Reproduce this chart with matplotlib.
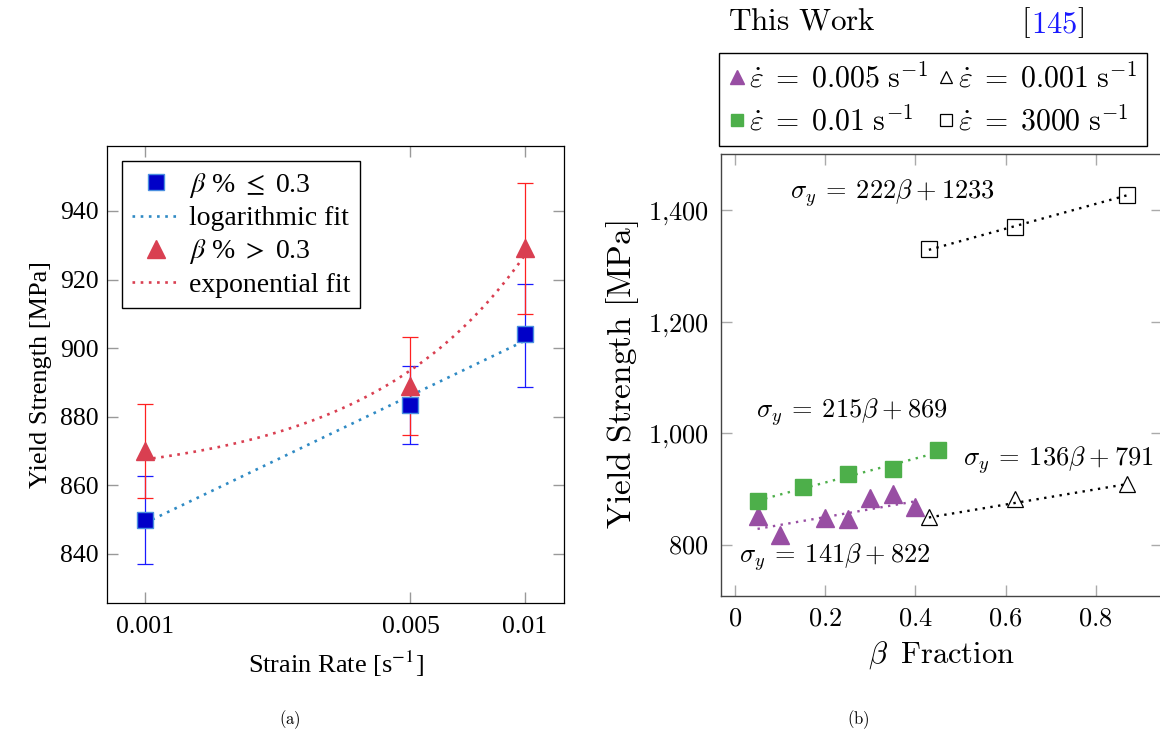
import numpy as np
import matplotlib.pyplot as plt
from matplotlib.ticker import NullLocator, FuncFormatter
from matplotlib.lines import Line2D

plt.rcParams['font.family'] = ['Liberation Serif', 'DejaVu Serif']
plt.rcParams['mathtext.fontset'] = 'cm'

# (a) yield strength against strain rate
strain_rate = [0.001, 0.005, 0.01]
low_beta = [849.8, 883.5, 904.0]
low_beta_lo = [837.0, 872.0, 888.8]
low_beta_hi = [862.8, 894.9, 918.7]
high_beta = [870.0, 889.0, 929.2]
high_beta_lo = [856.3, 874.7, 910.0]
high_beta_hi = [883.6, 903.3, 948.2]

# (b) yield strength against beta fraction
beta_005 = [0.05, 0.10, 0.20, 0.25, 0.30, 0.35, 0.40]
ys_005 = [852, 818, 849, 846, 884, 892, 868]
beta_01 = [0.05, 0.15, 0.25, 0.35, 0.45]
ys_01 = [879, 904, 927, 937, 971]
beta_ref = [0.43, 0.62, 0.87]
ys_ref_001 = [851, 882, 910]
ys_ref_3000 = [1330, 1369, 1426]
# linear fits (slope, intercept) as printed on the chart
fit_005 = (141, 822)
fit_01 = (215, 869)
fit_001 = (136, 791)
fit_3000 = (222, 1233)

fig = plt.figure(figsize=(11.6, 7.42), dpi=100)

# ---------------- panel (a) ----------------
ax1 = fig.add_axes([0.0925, 0.1869, 0.394, 0.6167])
sr = np.array(strain_rate)

ax1.errorbar(strain_rate, low_beta,
             yerr=[np.subtract(low_beta, low_beta_lo), np.subtract(low_beta_hi, low_beta)],
             fmt='none', ecolor='#1a1aff', elinewidth=0.9, capsize=5.8, capthick=0.9, zorder=2)
ax1.errorbar(strain_rate, high_beta,
             yerr=[np.subtract(high_beta, high_beta_lo), np.subtract(high_beta_hi, high_beta)],
             fmt='none', ecolor='#ff2020', elinewidth=0.9, capsize=5.8, capthick=0.9, zorder=2)

# logarithmic fit of the low beta group
b, a = np.polyfit(np.log(sr), low_beta, 1)
xs = np.logspace(np.log10(sr.min()), np.log10(sr.max()), 200)
ax1.plot(xs, a + b * np.log(xs), color='#2f8ac4', lw=1.9, ls=(0, (1, 2.1)), zorder=3)
# exponential fit of the high beta group
b2, a2 = np.polyfit(sr, np.log(high_beta), 1)
ax1.plot(xs, np.exp(a2 + b2 * xs), color='#d93f51', lw=1.9, ls=(0, (1, 2.1)), zorder=3)

ax1.plot(strain_rate, low_beta, 's', ms=12, mfc='#0000c8', mec='#4a8fe0', mew=1, ls='none', zorder=4)
ax1.plot(strain_rate, high_beta, '^', ms=13, mfc='#d93f51', mec='#d93f51', mew=1, ls='none', zorder=4)

ax1.set_xscale('log')
ax1.set_xlim(10 ** -3.099, 10 ** -1.896)
ax1.set_ylim(825.6, 959)
ax1.set_xticks(strain_rate)
ax1.set_xticklabels(['0.001', '0.005', '0.01'])
ax1.xaxis.set_minor_locator(NullLocator())
ax1.set_yticks([840, 860, 880, 900, 920, 940])
ax1.tick_params(direction='in', length=8, width=1, color='#999999', labelsize=18.5,
                top=True, right=True, labelcolor='black')
ax1.tick_params(axis='x', pad=9)
ax1.tick_params(axis='y', pad=6)
for s in ax1.spines.values():
    s.set_linewidth(0.9)
ax1.set_xlabel('Strain Rate [s$^{-1}$]', fontsize=19, labelpad=8, math_fontfamily='stix')
ax1.set_ylabel('Yield Strength [MPa]', fontsize=19, labelpad=6)

handles = [
    Line2D([], [], marker='s', ms=12, mfc='#0000c8', mec='#4a8fe0', ls='none'),
    Line2D([], [], color='#2f8ac4', lw=1.9, ls=(0, (1, 2.1))),
    Line2D([], [], marker='^', ms=13, mfc='#d93f51', mec='#d93f51', ls='none'),
    Line2D([], [], color='#d93f51', lw=1.9, ls=(0, (1, 2.1))),
]
labels = [r'$\beta$ % $\leq$ 0.3', 'logarithmic fit', r'$\beta$ % $>$ 0.3', 'exponential fit']
leg1 = ax1.legend(handles, labels, loc='upper left', bbox_to_anchor=(0.032, 0.9666),
                  borderaxespad=0, fontsize=20, handlelength=1.75, handletextpad=0.3,
                  labelspacing=0.22, borderpad=0.35, fancybox=False, framealpha=1,
                  edgecolor='black')
leg1.get_frame().set_linewidth(1)
for t in leg1.get_texts():
    t.set_math_fontfamily('stix')

# ---------------- panel (b) ----------------
ax2 = fig.add_axes([0.6218, 0.1968, 0.3799, 0.5957])
dots = (0, (1, 2.3))


def fit_line(xv, coef, color):
    xx = np.array([min(xv), max(xv)])
    ax2.plot(xx, coef[0] * xx + coef[1], color=color, lw=1.7, ls=dots, zorder=3)


fit_line(beta_005, fit_005, '#984ea3')
fit_line(beta_01, fit_01, '#4daf4a')
fit_line(beta_ref, fit_001, 'black')
fit_line(beta_ref, fit_3000, 'black')

h1, = ax2.plot(beta_005, ys_005, '^', ms=12.5, color='#984ea3', ls='none', zorder=4)
h2, = ax2.plot(beta_01, ys_01, 's', ms=11.5, color='#4daf4a', ls='none', zorder=4)
h3, = ax2.plot(beta_ref, ys_ref_001, '^', ms=11, mfc='none', mec='black', mew=0.9, ls='none', zorder=2)
h4, = ax2.plot(beta_ref, ys_ref_3000, 's', ms=11, mfc='none', mec='black', mew=0.9, ls='none', zorder=2)

ax2.set_xlim(-0.0304, 0.947)
ax2.set_ylim(709, 1500)
ax2.set_xticks([0, 0.2, 0.4, 0.6, 0.8])
ax2.set_yticks([800, 1000, 1200, 1400])
ax2.xaxis.set_major_formatter(FuncFormatter(lambda v, p: f'${v:g}$'))
ax2.yaxis.set_major_formatter(FuncFormatter(lambda v, p: '$' + f'{v:,.0f}'.replace(',', '{,}') + '$'))
ax2.tick_params(direction='in', length=8, width=1, color='#aaaaaa', labelsize=19,
                top=True, right=True)
ax2.tick_params(axis='x', pad=9)
ax2.tick_params(axis='y', pad=9)
for s in ax2.spines.values():
    s.set_linewidth(1)
    s.set_color('#444444')
ax2.set_xlabel(r'$\beta\;\;\mathrm{Fraction}$', fontsize=22, labelpad=6)
ax2.set_ylabel(r'$\mathrm{Yield\ Strength\ [MPa]}$', fontsize=24, labelpad=5)

eq_size = 19


def eq_text(x, y, coef, ha='left'):
    ax2.text(x, y, r'$\sigma_y\:=\:%d\beta\:+\:%d$' % coef, fontsize=eq_size,
             ha=ha, va='center')


eq_text(0.122, 1430, fit_3000)
eq_text(0.047, 1039, fit_01)
eq_text(0.929, 953, fit_001, ha='right')
eq_text(0.008, 779, fit_005)

leg_labels = [r'$\dot{\varepsilon}\;=\;0.005\ \mathrm{s}^{-1}$', r'$\dot{\varepsilon}\;=\;0.01\ \mathrm{s}^{-1}$',
              r'$\dot{\varepsilon}\;=\;0.001\ \mathrm{s}^{-1}$', r'$\dot{\varepsilon}\;=\;3000\ \mathrm{s}^{-1}$']
leg2 = fig.legend([h1, h2, h3, h4], leg_labels, ncol=2, loc='upper left',
                  bbox_to_anchor=(719 / 1160, 1 - 53 / 742),
                  borderaxespad=0, fontsize=21.5, handlelength=0.55, handletextpad=0.15,
                  columnspacing=0.3, labelspacing=0.42, borderpad=0.32, fancybox=False,
                  framealpha=1, edgecolor='black', markerscale=0.75)
leg2.get_frame().set_linewidth(1)

fig.text(0.628, 0.970, r'$\mathrm{This\ Work}$', fontsize=22.5, ha='left', va='center')
t1 = fig.text(1021 / 1160, 0.970, r'$\mathrm{[}$', fontsize=22, ha='left', va='center')
t2 = ax2.annotate(r'$\mathrm{145}$', xy=(1, 0), xycoords=t1, va='bottom', ha='left',
                  fontsize=22, color='#1a1aff')
ax2.annotate(r'$\mathrm{]}$', xy=(1, 0), xycoords=t2, va='bottom', ha='left', fontsize=22)

fig.text(0.25, 0.0296, r'$\mathrm{(a)}$', fontsize=12, ha='center', va='center')
fig.text(0.7397, 0.0296, r'$\mathrm{(b)}$', fontsize=12, ha='center', va='center')

fig.savefig('out.png', dpi=100)
